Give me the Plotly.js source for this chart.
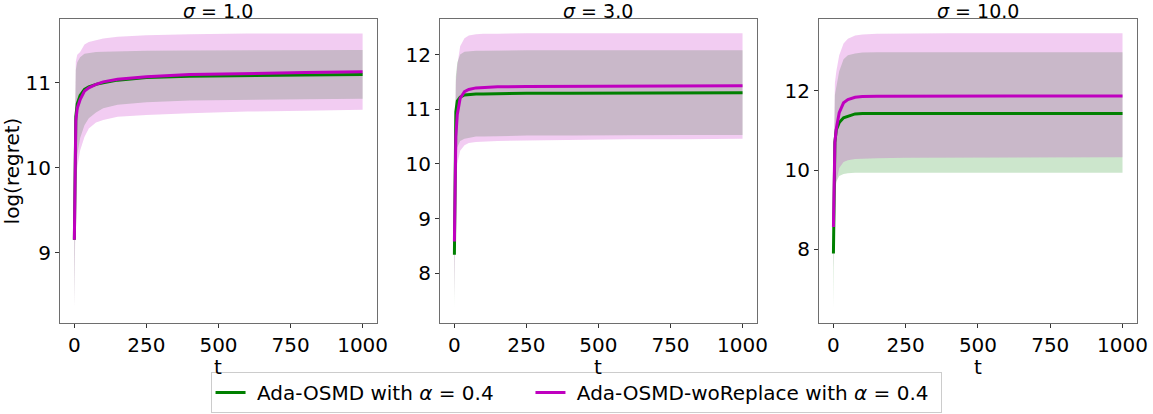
<!DOCTYPE html>
<html>
<head>
<meta charset="utf-8">
<script src="https://cdn.plot.ly/plotly-3.0.1.min.js"></script>
<style>html,body{margin:0;padding:0;background:#fff;}#chart{width:1153px;height:414px;}</style>
</head>
<body>
<div id="chart"></div>
<script>
// time steps
const t = [0, 2, 5, 10, 20, 35, 50, 75, 100, 150, 250, 400, 600, 800, 1000];

// sigma = 1.0
const s1_ada_mean  = [9.15, 10.2, 10.6, 10.75, 10.85, 10.92, 10.95, 10.98, 11.0, 11.03, 11.06, 11.075, 11.085, 11.09, 11.095];
const s1_ada_upper = [9.95, 10.9, 11.15, 11.24, 11.3, 11.34, 11.35, 11.36, 11.365, 11.37, 11.375, 11.38, 11.38, 11.385, 11.385];
const s1_ada_lower = [8.35, 9.5, 9.95, 10.15, 10.35, 10.5, 10.58, 10.65, 10.7, 10.74, 10.77, 10.79, 10.8, 10.805, 10.81];
const s1_wo_mean   = [9.15, 10.1, 10.55, 10.7, 10.8, 10.9, 10.94, 10.98, 11.01, 11.04, 11.07, 11.095, 11.11, 11.12, 11.13];
const s1_wo_upper  = [9.95, 10.9, 11.25, 11.33, 11.36, 11.45, 11.48, 11.5, 11.52, 11.54, 11.56, 11.57, 11.58, 11.58, 11.58];
const s1_wo_lower  = [8.34, 9.3, 9.8, 10.0, 10.2, 10.36, 10.46, 10.53, 10.56, 10.6, 10.62, 10.64, 10.66, 10.67, 10.68];

// sigma = 3.0
const s3_ada_mean  = [8.34, 10.3, 10.95, 11.15, 11.22, 11.26, 11.27, 11.28, 11.28, 11.285, 11.29, 11.29, 11.295, 11.3, 11.3];
const s3_ada_upper = [9.4, 11.0, 11.6, 11.85, 12.0, 12.05, 12.06, 12.07, 12.07, 12.075, 12.08, 12.08, 12.08, 12.08, 12.08];
const s3_ada_lower = [7.34, 9.3, 10.0, 10.3, 10.42, 10.46, 10.48, 10.5, 10.5, 10.51, 10.52, 10.52, 10.53, 10.53, 10.53];
const s3_wo_mean   = [8.58, 9.8, 10.5, 10.9, 11.2, 11.32, 11.36, 11.39, 11.4, 11.41, 11.415, 11.42, 11.425, 11.43, 11.43];
const s3_wo_upper  = [9.6, 10.9, 11.5, 11.8, 12.15, 12.3, 12.35, 12.37, 12.38, 12.38, 12.39, 12.39, 12.39, 12.39, 12.39];
const s3_wo_lower  = [7.5, 8.8, 9.5, 10.0, 10.24, 10.34, 10.38, 10.4, 10.41, 10.42, 10.43, 10.44, 10.45, 10.45, 10.46];

// sigma = 10.0
const s10_ada_mean  = [7.89, 10.0, 10.7, 11.02, 11.2, 11.32, 11.36, 11.42, 11.43, 11.43, 11.43, 11.43, 11.43, 11.43, 11.43];
const s10_ada_upper = [9.3, 11.2, 11.9, 12.1, 12.5, 12.8, 12.9, 12.95, 12.97, 12.98, 12.98, 12.98, 12.98, 12.98, 12.98];
const s10_ada_lower = [6.48, 8.9, 9.5, 9.7, 9.85, 9.9, 9.92, 9.93, 9.93, 9.93, 9.93, 9.93, 9.93, 9.93, 9.93];
const s10_wo_mean   = [8.56, 10.0, 10.7, 11.05, 11.45, 11.7, 11.78, 11.84, 11.86, 11.865, 11.87, 11.87, 11.87, 11.87, 11.87];
const s10_wo_upper  = [9.6, 11.5, 12.2, 12.5, 12.9, 13.2, 13.32, 13.4, 13.43, 13.45, 13.46, 13.46, 13.46, 13.46, 13.46];
const s10_wo_lower  = [7.5, 8.8, 9.3, 9.7, 10.05, 10.2, 10.25, 10.28, 10.29, 10.3, 10.31, 10.31, 10.32, 10.32, 10.32];

const panelTitles = ['<i>σ</i> = 1.0', '<i>σ</i> = 3.0', '<i>σ</i> = 10.0'];
const seriesNames = ['\u00a0Ada-OSMD with <i>α</i> = 0.4\u00a0\u00a0\u00a0\u00a0\u00a0', '\u00a0Ada-OSMD-woReplace with <i>α</i> = 0.4\u00a0'];
const xTitle = 't';
const yTitle = 'log(regret)';
const xTicks = [0, 250, 500, 750, 1000];

const panels = [
  {ada: [s1_ada_mean, s1_ada_lower, s1_ada_upper], wo: [s1_wo_mean, s1_wo_lower, s1_wo_upper], yr: [8.17, 11.75], dt: 1},
  {ada: [s3_ada_mean, s3_ada_lower, s3_ada_upper], wo: [s3_wo_mean, s3_wo_lower, s3_wo_upper], yr: [7.09, 12.65], dt: 1},
  {ada: [s10_ada_mean, s10_ada_lower, s10_ada_upper], wo: [s10_wo_mean, s10_wo_lower, s10_wo_upper], yr: [6.13, 13.82], dt: 2}
];

const GREEN = '#008000', MAG = '#bf00bf';
const GFILL = 'rgba(0,128,0,0.2)', MFILL = 'rgba(191,0,191,0.2)';
const font = 'DejaVu Sans, sans-serif';

const doms = [[0.052, 0.327], [0.3816, 0.6565], [0.7103, 0.9861]];
const yDom = [0.2198, 0.9541];

const traces = [];
const layout = {
  width: 1153, height: 414,
  margin: {l: 0, r: 0, t: 0, b: 0},
  paper_bgcolor: '#fff', plot_bgcolor: '#fff',
  font: {family: font, size: 20, color: '#000'},
  showlegend: true,
  legend: {
    orientation: 'h', x: 0.4996, xanchor: 'center', y: 0.1014, yanchor: 'top',
    bordercolor: '#cccccc', borderwidth: 1, bgcolor: '#fff',
    font: {family: font, size: 20, color: '#000'},
    tracegroupgap: 0
  },
  annotations: []
};

panels.forEach((p, i) => {
  const n = i + 1;
  const xa = 'x' + (n === 1 ? '' : n), ya = 'y' + (n === 1 ? '' : n);
  const addBand = (lower, upper, fc) => {
    traces.push({x: t, y: lower, xaxis: xa, yaxis: ya, mode: 'lines', line: {width: 0, color: fc}, showlegend: false, hoverinfo: 'skip'});
    traces.push({x: t, y: upper, xaxis: xa, yaxis: ya, mode: 'lines', line: {width: 0, color: fc}, fill: 'tonexty', fillcolor: fc, showlegend: false, hoverinfo: 'skip'});
  };
  addBand(p.ada[1], p.ada[2], GFILL);
  addBand(p.wo[1], p.wo[2], MFILL);
  traces.push({x: t, y: p.ada[0], xaxis: xa, yaxis: ya, mode: 'lines', line: {width: 3, color: GREEN}, name: seriesNames[0], showlegend: i === 0, legendgroup: 'a'});
  traces.push({x: t, y: p.wo[0], xaxis: xa, yaxis: ya, mode: 'lines', line: {width: 3, color: MAG}, name: seriesNames[1], showlegend: i === 0, legendgroup: 'b'});

  const axCommon = {
    showgrid: false, zeroline: false, showline: true, mirror: true,
    linecolor: '#6e6e6e', linewidth: 1, ticks: 'outside', ticklen: 4, tickcolor: '#333',
    tickfont: {family: font, size: 20, color: '#000'}
  };
  layout['xaxis' + (n === 1 ? '' : n)] = Object.assign({}, axCommon, {
    domain: doms[i], range: [-50, 1050], tickvals: xTicks, ticktext: xTicks.map(String),
    anchor: ya
  });
  const yax = Object.assign({}, axCommon, {
    domain: yDom, range: p.yr, dtick: p.dt, tick0: 0, anchor: xa
  });
  if (i === 0) yax.title = {text: yTitle, font: {family: font, size: 20}, standoff: 4};
  layout['yaxis' + (n === 1 ? '' : n)] = yax;

  const xc = (doms[i][0] + doms[i][1]) / 2;
  layout.annotations.push({
    text: panelTitles[i], xref: 'paper', yref: 'paper',
    x: xc, y: 1 - 11 / 414, xanchor: 'center', yanchor: 'middle',
    showarrow: false, font: {family: font, size: 19, color: '#000'}
  });
  layout.annotations.push({
    text: xTitle, xref: 'paper', yref: 'paper',
    x: xc, y: 1 - 367 / 414, xanchor: 'center', yanchor: 'middle',
    showarrow: false, font: {family: font, size: 20, color: '#000'}
  });
});

Plotly.newPlot('chart', traces, layout, {staticPlot: true, displayModeBar: false});
</script>
</body>
</html>
